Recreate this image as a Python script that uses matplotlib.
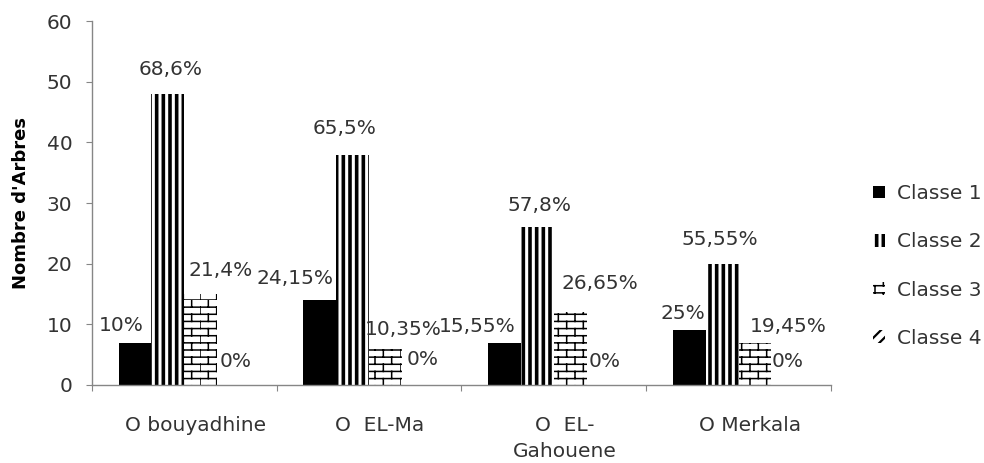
import warnings
import numpy as np
import matplotlib
matplotlib.use('Agg')
import matplotlib.pyplot as plt
import matplotlib.patches as mpatches
import matplotlib.transforms as mtransforms
from matplotlib import hatch as mhatch
from matplotlib.path import Path

warnings.filterwarnings('ignore')

# data
sites = ['O bouyadhine', 'O  EL-Ma', 'O  EL-\nGahouene', 'O Merkala']
classes = ['Classe 1', 'Classe 2', 'Classe 3', 'Classe 4']
classe1 = [7, 14, 7, 9]
classe2 = [48, 38, 26, 20]
classe3 = [15, 6, 12, 7]
classe4 = [0, 0, 0, 0]
pct1 = ['10%', '24,15%', '15,55%', '25%']
pct2 = ['68,6%', '65,5%', '57,8%', '55,55%']
pct3 = ['21,4%', '10,35%', '26,65%', '19,45%']
pct4 = ['0%', '0%', '0%', '0%']

# label offsets (pixels) as placed in the original chart
dx = [[-14, -25, -27, -6], [3, -8, 2, -2], [20, 18, 30, 33], [2, 4, 1, 0]]
dy = [[17, 22, 16, 17], [24, 26, 22, 24], [24, 19, 29, 16], [23, 25, 23, 23]]


# custom hatches: 'B' = bricks, 'S' = wide vertical stripes
class BrickHatch(mhatch.HatchPatternBase):
    def __init__(self, hatch, density):
        self.rows = 14 * hatch.count('B')
        self.cols = 6
        self.num_vertices = self.rows * (2 + 2 * self.cols)

    def set_vertices_and_codes(self, vertices, codes):
        k = 0
        for i in range(self.rows):
            y0 = i / self.rows
            y1 = (i + 1) / self.rows
            vertices[k] = (0, y0)
            vertices[k + 1] = (1, y0)
            k += 2
            shift = 0.5 * (i % 2)
            for j in range(self.cols):
                x = (j + shift) / self.cols
                vertices[k] = (x, y0)
                vertices[k + 1] = (x, y1)
                k += 2
        codes[0::2] = Path.MOVETO
        codes[1::2] = Path.LINETO


class StripeHatch(mhatch.HatchPatternBase):
    def __init__(self, hatch, density):
        self.n = 15 * hatch.count('S')
        self.num_vertices = self.n * 2

    def set_vertices_and_codes(self, vertices, codes):
        for i in range(self.n):
            x = (i + 0.5) / self.n
            vertices[2 * i] = (x, 0)
            vertices[2 * i + 1] = (x, 1)
        codes[0::2] = Path.MOVETO
        codes[1::2] = Path.LINETO


mhatch._hatch_types.append(BrickHatch)
mhatch._hatch_types.append(StripeHatch)

plt.rcParams['font.family'] = 'DejaVu Sans'
txt = '#333333'
grey = '#868686'
fs = 14.5

fig = plt.figure(figsize=(9.84, 4.63), dpi=100)
ax = fig.add_axes([0.0935, 0.1685, 0.751, 0.786])

x = np.arange(len(sites))
w = 0.178
series = [classe1, classe2, classe3, classe4]
pcts = [pct1, pct2, pct3, pct4]
hatches = [None, 'S', 'B', '///']
hlw = [1, 2.6, 1.1, 1.6]

for k in range(4):
    pos = x + (k - 1.5) * w
    if k == 0:
        bars = ax.bar(pos, series[k], w, color='black', linewidth=0)
    else:
        bars = ax.bar(pos, series[k], w, facecolor='white', edgecolor='black',
                      linewidth=0, hatch=hatches[k])
        for b in bars:
            b.set_hatch_linewidth(hlw[k])
    for i, b in enumerate(bars):
        ax.annotate(pcts[k][i], (b.get_x() + b.get_width() / 2, b.get_height()),
                    xytext=(dx[k][i], dy[k][i]), textcoords='offset pixels',
                    ha='center', va='center', fontsize=fs, color=txt)

ax.set_xlim(-0.5, 3.5)
ax.set_ylim(0, 60)
ax.set_yticks(range(0, 61, 10))
ax.set_xticks(np.arange(-0.5, 4, 1))
ax.set_xticklabels([])
ax.set_xticks(x, minor=True)
ax.set_xticklabels(sites, minor=True, fontsize=fs, color=txt, linespacing=1.5)
ax.tick_params(axis='x', which='minor', length=0, pad=22)
ax.tick_params(axis='x', which='major', length=4, color=grey)
ax.tick_params(axis='y', length=4, color=grey, pad=10, labelsize=fs, labelcolor=txt)
shift = mtransforms.ScaledTranslation(11 / 100, 0, fig.dpi_scale_trans)
for lab in ax.get_xticklabels(minor=True):
    lab.set_transform(lab.get_transform() + shift)

for s in ['top', 'right']:
    ax.spines[s].set_visible(False)
for s in ['left', 'bottom']:
    ax.spines[s].set_color(grey)
    ax.spines[s].set_linewidth(1)

ax.set_ylabel("Nombre d'Arbres", fontsize=13, fontweight='bold', color='black')
ax.yaxis.set_label_coords(-0.084, 0.5)

handles = []
for k in range(4):
    if k == 0:
        handles.append(mpatches.Patch(facecolor='black', linewidth=0, label=classes[k]))
    else:
        handles.append(mpatches.Patch(facecolor='white', edgecolor='black', linewidth=0,
                                      hatch=hatches[k], label=classes[k]))
leg = fig.legend(handles=handles, loc='center left', bbox_to_anchor=(0.887, 0.4255),
                 frameon=False, fontsize=fs, handlelength=0.6, handleheight=0.6,
                 handletextpad=0.6, labelspacing=1.45, borderpad=0, borderaxespad=0)
for t in leg.get_texts():
    t.set_color(txt)
for k, h in enumerate(leg.legend_handles):
    h.set_hatch_linewidth(hlw[k])

fig.savefig('out.png', dpi=100)
